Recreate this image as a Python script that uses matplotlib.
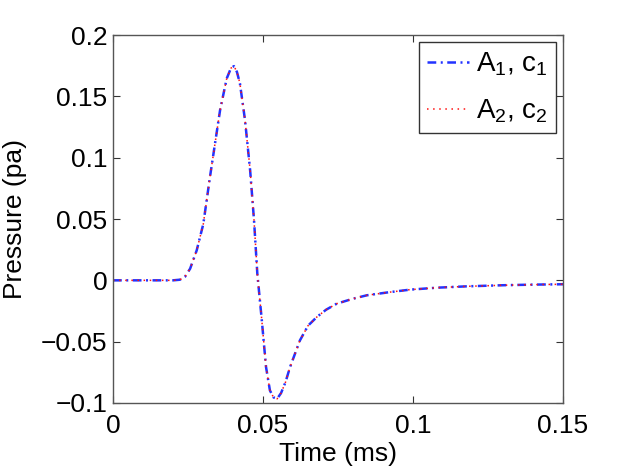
import matplotlib
matplotlib.use('Agg')
import matplotlib.pyplot as plt

# pulse (time in ms, pressure in pa)
time_ms = [0.0, 0.005, 0.010, 0.015, 0.020, 0.0223, 0.0240, 0.0257, 0.0279, 0.0301,
           0.0323, 0.0340, 0.0357, 0.0379, 0.0393, 0.0403, 0.0413, 0.0423, 0.0440,
           0.0457, 0.0470, 0.0481, 0.0496, 0.0510, 0.0523, 0.0535, 0.0547, 0.0560,
           0.0575, 0.0590, 0.0623, 0.0650, 0.0679, 0.0710, 0.0746, 0.0800, 0.0846,
           0.0920, 0.0990, 0.1080, 0.1179, 0.1300, 0.1400, 0.1500]
pressure_1 = [0.0, 0.0, 0.0, 0.0, 0.0, 0.0005, 0.003, 0.0095, 0.0245, 0.046,
              0.084, 0.1116, 0.139, 0.1646, 0.1730, 0.1747, 0.1700, 0.1606, 0.1306,
              0.0898, 0.049, 0.0054, -0.0327, -0.0707, -0.0898, -0.0955, -0.0966, -0.0920,
              -0.0830, -0.0708, -0.0490, -0.0370, -0.0300, -0.0240, -0.0190, -0.0150, -0.0122,
              -0.0097, -0.0076, -0.0060, -0.0049, -0.0040, -0.0035, -0.0032]
pressure_2 = list(pressure_1)

plt.rcParams['font.family'] = ['Liberation Sans', 'DejaVu Sans']
plt.rcParams['mathtext.fontset'] = 'custom'
plt.rcParams['mathtext.rm'] = 'Liberation Sans'
plt.rcParams['mathtext.it'] = 'Liberation Sans'
plt.rcParams['font.size'] = 19

fig = plt.figure(figsize=(6.22, 4.68), dpi=100)
ax = fig.add_axes([0.1817, 0.139, 0.7235, 0.786])

ax.plot(time_ms, pressure_1, color='#2233ff', linestyle=(0, (3.5, 1.8, 0.8, 1.8)),
        linewidth=1.8, label=r'A$_\mathregular{1}$, c$_\mathregular{1}$')
ax.plot(time_ms, pressure_2, color='#ff1111', linestyle=(0, (1, 3)), linewidth=1.1,
        label=r'A$_\mathregular{2}$, c$_\mathregular{2}$')

ax.set_xlim(0, 0.15)
ax.set_ylim(-0.1, 0.2)
ax.set_xticks([0, 0.05, 0.1, 0.15])
ax.set_xticklabels(['0', '0.05', '0.1', '0.15'])
ax.set_yticks([-0.1, -0.05, 0, 0.05, 0.1, 0.15, 0.2])
ax.set_yticklabels(['\u22120.1', '\u22120.05', '0', '0.05', '0.1', '0.15', '0.2'])
ax.tick_params(direction='in', top=True, right=True, length=5, width=0.8,
               color='#333333')
ax.tick_params(axis='x', pad=8)
ax.tick_params(axis='y', pad=4)
for s in ax.spines.values():
    s.set_color('#555555')
    s.set_linewidth(1.0)

ax.set_xlabel('Time (ms)', labelpad=3)
ax.set_ylabel('Pressure (pa)', labelpad=10)

leg = ax.legend(loc='upper right', fancybox=False, framealpha=1, edgecolor='#333333',
                fontsize=20, handlelength=1.5, handletextpad=0.25, borderpad=0.3,
                labelspacing=0.7, borderaxespad=0.25)
leg.get_frame().set_linewidth(1.0)

fig.savefig('out.png', dpi=100)
